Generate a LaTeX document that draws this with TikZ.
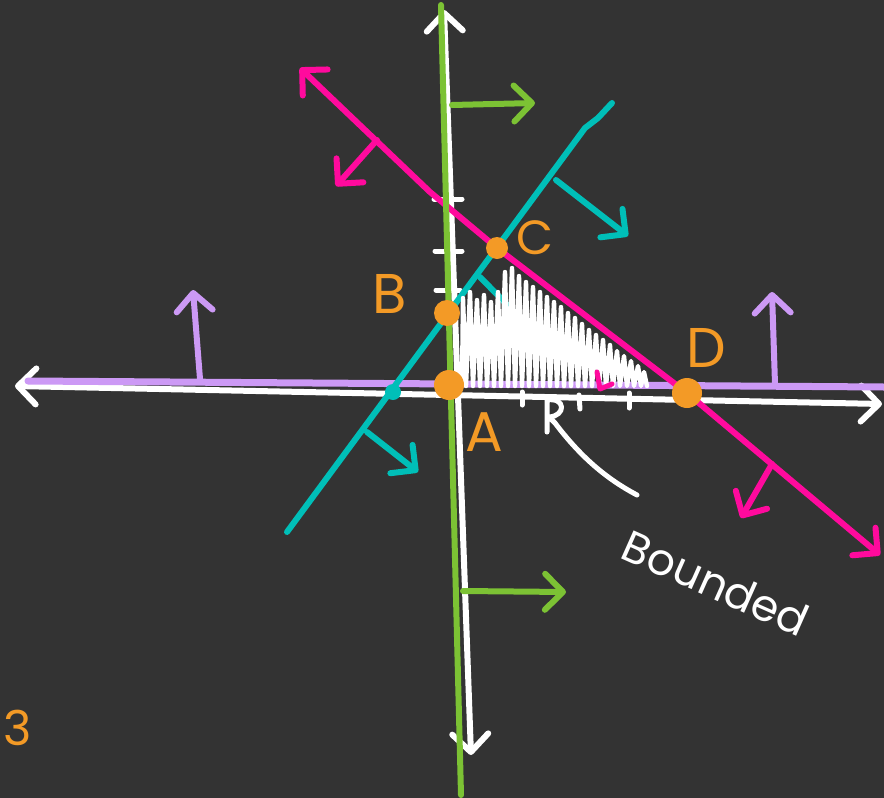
\documentclass[tikz,border=0pt]{standalone}
\usepackage{fontspec}
\setmainfont{Poppins}
\usetikzlibrary{arrows.meta}
\definecolor{bgc}{HTML}{333333}
\definecolor{purp}{HTML}{CC99F5}
\definecolor{teal2}{HTML}{00BFB8}
\definecolor{pinkc}{HTML}{FF0A9D}
\definecolor{grn}{HTML}{7CC234}
\definecolor{orng}{HTML}{F39A26}
\begin{document}
\begin{tikzpicture}[x=0.5pt,y=-0.5pt, line cap=round, line join=round,
  ln/.style={line width=3pt},
  thin ln/.style={line width=2.5pt},
  hd/.style={-{Straight Barb[length=9pt,width=18pt,round]}},
  hdboth/.style={{Straight Barb[length=9pt,width=18pt,round]}-{Straight Barb[length=9pt,width=18pt,round]}},
  dot/.style={circle,fill=orng,inner sep=0pt,minimum size=#1},
  lab/.style={text=orng,font=\fontsize{24}{24}\selectfont}]
\fill[bgc] (0,0) rectangle (884,798);
\useasboundingbox (0,0) rectangle (884,798);
% line end coordinates
\coordinate (xl) at (15,386);
\coordinate (xr) at (882,404);
\coordinate (yt) at (444,10);
\coordinate (yb) at (471,755);
\coordinate (pl) at (28,381);
\coordinate (pr) at (884,387);
\coordinate (gt) at (441,5);
\coordinate (gb) at (461,795);
\coordinate (tb) at (287,532);
\coordinate (tt) at (612,103);
\coordinate (kt) at (300,68);
\coordinate (kb) at (880,555);
% white axes
\draw[white,ln,hdboth] (xl) -- (xr);
\draw[white,ln,hdboth] (yt) -- (yb);
% y-axis ticks
\draw[white,thin ln] (434,199) -- (462,199);
\draw[white,thin ln] (435,251) -- (462,251);
\draw[white,thin ln] (436,290) -- (460,290);
% x-axis ticks and R mark
\draw[white,thin ln] (522,392) -- (522,405);
\draw[white,thin ln] (579,395) -- (580,409);
\draw[white,thin ln] (629,393) -- (629,408);
\draw[white,thin ln] (547,432) -- (547,400) .. controls (566,397) and (566,416) .. (549,417)
   -- (555,423) .. controls (580,456) and (605,478) .. (637,495);
% purple line and arrows
\draw[purp,line width=3.5pt] (pl) -- (pr);
\coordinate (pa1) at (200,379); \coordinate (pa2) at (193,290);
\coordinate (pb1) at (775,384); \coordinate (pb2) at (772,292);
\draw[purp,ln,hd] (pa1) -- (pa2);
\draw[purp,ln,hd] (pb1) -- (pb2);
% teal line and arrows
\draw[teal2,ln] (tb) -- (585,128) -- (598,118) -- (tt);
\coordinate (ta1) at (556,180); \coordinate (ta2) at (628,236);
\coordinate (tc1) at (367,432); \coordinate (tc2) at (418,472);
\draw[teal2,ln,hd] (ta1) -- (ta2);
\draw[teal2,ln,hd] (tc1) -- (tc2);
\draw[teal2,ln] (480,277) -- (520,318);
\node[circle,fill=teal2,inner sep=0pt,minimum size=8pt] (td) at (393,392) {};
% hatching
\draw[white,line width=2.2pt]
  (462,384)
  \foreach \x/\t in {462/298,469/292,476/300,483/295,490/302,497/292,
     504/272,511/268,518/276,525/282,532/287,539/292,546/297,
     553/302,560/307,567/313,574/318,581/324,588/330,595/335,
     602/340,609/345,616/351,623/356,630/361,637/366,643/372}
  { -- (\x+1,\t) -- (\x+4,386) };
% pink line and arrows
\draw[pinkc,ln,hdboth] (kt) -- (430,192) -- (497,248) -- (687,393) -- (kb);
\coordinate (ka1) at (377,140); \coordinate (ka2) at (336,186);
\coordinate (kc1) at (772,464); \coordinate (kc2) at (741,518);
\draw[pinkc,ln,hd] (ka1) -- (ka2);
\draw[pinkc,ln,hd] (kc1) -- (kc2);
\draw[pinkc,thin ln] (597,372) -- (600,389) -- (612,384);
% green line and arrows
\draw[grn,ln] (gt) -- (gb);
\coordinate (ga1) at (452,105); \coordinate (ga2) at (535,103);
\coordinate (gc1) at (463,591); \coordinate (gc2) at (566,592);
\draw[grn,ln,hd] (ga1) -- (ga2);
\draw[grn,ln,hd] (gc1) -- (gc2);
% points
\node[dot=15pt] (A) at (449,385) {};
\node[dot=13pt] (B) at (447,313) {};
\node[dot=11pt] (C) at (497,248) {};
\node[dot=15pt] (D) at (687,393) {};
% labels
\node[lab] (lC) at (535,238) {C};
\node[lab,font=\fontsize{28}{28}\selectfont] (lB) at (390,294) {B};
\node[lab,font=\fontsize{28}{28}\selectfont] (lA) at (484,432) {A};
\node[lab,font=\fontsize{28}{28}\selectfont] (lD) at (706,348) {D};
\node[lab,anchor=west,inner sep=0pt] (l3) at (3,728) {3};
\node[text=white,rotate=-24,font=\fontsize{22}{22}\selectfont] (bd) at (716,583) {Bounded};
\end{tikzpicture}
\end{document}
